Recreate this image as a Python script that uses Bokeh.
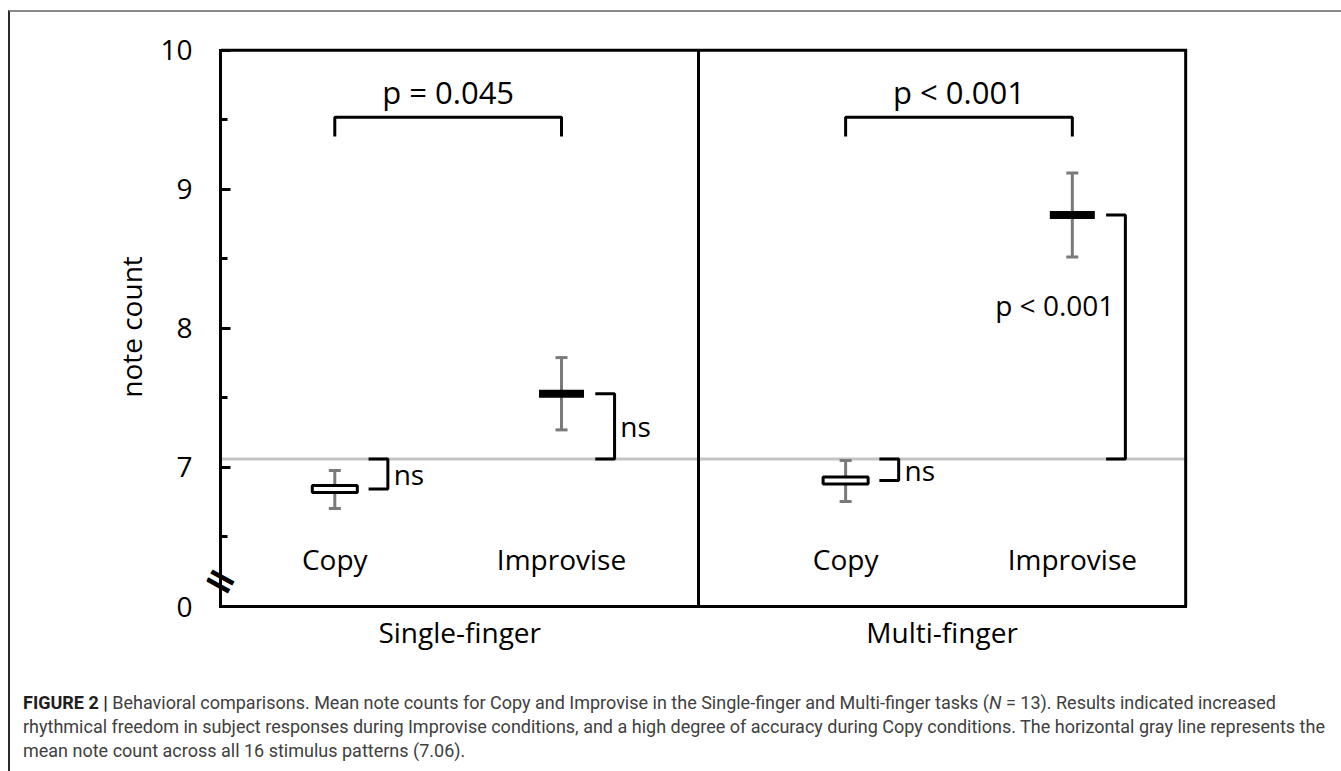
from bokeh.plotting import figure
from bokeh.models import Range1d, FixedTicker, Label, Div, LinearAxis
from bokeh.layouts import column
from bokeh.embed import file_html
from bokeh.resources import INLINE
from bokeh.core.properties import value

# ---------------- data ----------------
groups = ["Single-finger", "Multi-finger"]
group_x = [0.495, 1.495]
conditions = ["Copy", "Improvise", "Copy", "Improvise"]
cond_x = [0.236, 0.706, 1.295, 1.765]
means = [6.845, 7.53, 6.906, 8.815]
err_lo = [6.705, 7.27, 6.755, 8.513]
err_hi = [6.978, 7.79, 7.05, 9.117]
stimulus_mean = 7.06
y_ticks = [6, 7, 8, 9, 10]
y_tick_labels = ["0", "7", "8", "9", "10"]
y_minor_ticks = [6.5, 7.5, 8.5, 9.5]
pair_labels = ["p = 0.045", "p < 0.001"]
ref_labels = ["ns", "ns", "ns", "p < 0.001"]
divider_x = 0.99
x_lo, x_hi = 0, 2
y_lo, y_hi = 6, 10

FONT = "Open Sans"
FS = "28px"
GRAY = "#7a7a7a"

# frame slightly larger than the drawn box so the axis-break mark is not clipped
p = figure(width=1323, height=674, x_range=Range1d(-0.03, 2.01), y_range=Range1d(6, 10.02),
           output_backend="svg", toolbar_location=None,
           min_border_left=196, min_border_right=143, min_border_top=35, min_border_bottom=80)
p.xgrid.visible = False
p.ygrid.visible = False
p.outline_line_color = None
p.background_fill_color = "white"
p.border_fill_color = "white"

# y axis at the frame edge: tick labels and axis title only
ya = p.yaxis[0]
ya.bounds = (y_lo, y_hi)
ya.ticker = FixedTicker(ticks=y_ticks, minor_ticks=[])
ya.major_label_overrides = dict(zip(y_ticks, y_tick_labels))
ya.axis_line_color = None
ya.major_tick_line_color = None
ya.minor_tick_line_color = None
ya.major_tick_in = 0
ya.major_tick_out = 0
ya.major_label_standoff = 14
ya.major_label_text_font = FONT
ya.major_label_text_font_size = FS
ya.major_label_text_color = "black"
ya.axis_label = "note count"
ya.axis_label_text_font = FONT
ya.axis_label_text_font_size = FS
ya.axis_label_text_font_style = "normal"
ya.axis_label_text_color = "black"
ya.axis_label_standoff = 7

# y axis line and ticks, fixed at x = 0 (label-free: ticks given as minor ticks)
ya_major = LinearAxis(fixed_location=x_lo, bounds=(y_lo, y_hi),
                      ticker=FixedTicker(ticks=[], minor_ticks=y_ticks),
                      axis_line_width=3, axis_line_color="black", axis_line_cap="square",
                      major_tick_line_color=None, minor_tick_in=10, minor_tick_out=0,
                      minor_tick_line_width=3, minor_tick_line_color="black")
ya_minor = LinearAxis(fixed_location=x_lo, bounds=(y_lo, y_hi),
                      ticker=FixedTicker(ticks=[], minor_ticks=y_minor_ticks),
                      axis_line_color=None, major_tick_line_color=None,
                      minor_tick_in=7, minor_tick_out=0,
                      minor_tick_line_width=3, minor_tick_line_color="black")
p.add_layout(ya_major, "left")
p.add_layout(ya_minor, "left")

xa = p.xaxis[0]
xa.bounds = (x_lo, x_hi)
xa.ticker = FixedTicker(ticks=group_x, minor_ticks=[])
xa.major_label_overrides = dict(zip(group_x, groups))
xa.axis_line_width = 3
xa.axis_line_color = "black"
xa.axis_line_cap = "square"
xa.major_tick_line_color = None
xa.minor_tick_line_color = None
xa.major_label_standoff = 0
xa.major_label_text_font = FONT
xa.major_label_text_font_size = FS
xa.major_label_text_color = "black"

# reference line (mean of stimulus patterns)
p.segment(x0=[x_lo], y0=[stimulus_mean], x1=[x_hi], y1=[stimulus_mean],
          line_color="#c4c4c4", line_width=3)

# box: top and right edges, and the divider between tasks
p.multi_line(xs=[[x_lo, x_hi, x_hi], [divider_x, divider_x]],
             ys=[[y_hi, y_hi, y_lo], [y_lo, y_hi]],
             line_color="black", line_width=3, line_join="miter")

# error bars
p.segment(x0=cond_x, y0=err_lo, x1=cond_x, y1=err_hi, line_color=GRAY, line_width=3)
p.scatter(x=cond_x + cond_x, y=err_lo + err_hi, marker="dash", size=12,
          line_color=GRAY, line_width=3)

# mean markers
copy_idx = [i for i, c in enumerate(conditions) if c == "Copy"]
imp_idx = [i for i, c in enumerate(conditions) if c == "Improvise"]
p.rect(x=[cond_x[i] for i in copy_idx], y=[means[i] for i in copy_idx], width=45, height=7,
       width_units="screen", height_units="screen", fill_color="white",
       line_color="black", line_width=3)
p.rect(x=[cond_x[i] for i in imp_idx], y=[means[i] for i in imp_idx], width=45, height=8,
       width_units="screen", height_units="screen", fill_color="black", line_color=None)

# brackets between Copy and Improvise
top_xs, top_ys, top_mid = [], [], []
for ci, ii in zip(copy_idx, imp_idx):
    top_xs.append([cond_x[ci], cond_x[ci], cond_x[ii], cond_x[ii]])
    top_ys.append([9.38, 9.518, 9.518, 9.38])
    top_mid.append((cond_x[ci] + cond_x[ii]) / 2)
p.multi_line(xs=top_xs, ys=top_ys, line_color="black", line_width=3)
p.text(x=top_mid, y=[9.70] * len(top_mid), text=pair_labels, text_font=value(FONT),
       text_font_size="31px", text_align="center", text_baseline="middle", text_color="black")

# brackets from each mean to the reference line
r_xs, r_ys = [], []
for x, m in zip(cond_x, means):
    r_xs.append([x + 0.07, x + 0.11, x + 0.11, x + 0.07])
    r_ys.append([m, m, stimulus_mean, stimulus_mean])
p.multi_line(xs=r_xs, ys=r_ys, line_color="black", line_width=3)

ns_x = [cond_x[i] + 0.122 for i in range(3)]
ns_y = [(means[i] + stimulus_mean) / 2 for i in range(3)]
p.text(x=ns_x, y=ns_y, text=ref_labels[:3], text_font=value(FONT), text_font_size=FS,
       text_align="left", text_baseline="middle", text_color="black")
p.text(x=[cond_x[3] + 0.087], y=[8.17], text=ref_labels[3:], text_font=value(FONT),
       text_font_size=FS, text_align="right", text_baseline="middle", text_color="black")

# condition labels
p.text(x=cond_x, y=[6.345] * 4, text=conditions, text_font=value(FONT), text_font_size=FS,
       text_align="center", text_baseline="middle", text_color="black")

# axis break mark (two slanted strokes across the y axis)
p.add_layout(Label(x=x_lo, y=6.19, text="=", angle=-29, angle_units="deg",
                   text_font="DejaVu Sans", text_font_style="bold",
                   text_font_size="40px", text_align="center", text_baseline="middle",
                   text_color="black"))

caption = ('<b style="font-weight:700;color:#1e1e1e">FIGURE 2 |</b> Behavioral comparisons. '
           'Mean note counts for Copy and Improvise in the Single-finger and Multi-finger tasks '
           '(<i>N</i> = 13). Results indicated increased<br>'
           'rhythmical freedom in subject responses during Improvise conditions, and a high degree '
           'of accuracy during Copy conditions. The horizontal gray line represents the<br>'
           'mean note count across all 16 stimulus patterns (7.06).')
div = Div(text=caption, width=1331, height=78,
          styles={"font-family": "Roboto", "font-size": "18px", "line-height": "24px",
                  "color": "#404040", "white-space": "nowrap", "padding-left": "8px"})

layout = column(p, div, styles={"border-top": "2px solid #8a8a8a",
                                "border-left": "2px solid #2a2a2a",
                                "margin-top": "10px", "margin-left": "8px"})

open("out.html", "w").write(file_html(layout, INLINE))
